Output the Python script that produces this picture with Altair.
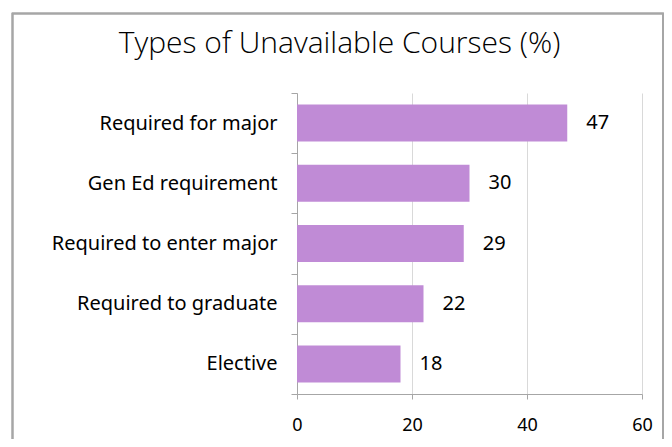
import altair as alt
import pandas as pd

categories = ["Required for major", "Gen Ed requirement", "Required to enter major",
              "Required to graduate", "Elective"]
values = [47, 30, 29, 22, 18]
x_ticks = [0, 20, 40, 60]

df = pd.DataFrame({"category": categories, "value": values})

FONT = "Noto Sans"
BAR = "#C08BD6"
AXIS_GRAY = "#A6A6A6"

y_enc = alt.Y("category:N", sort=categories, title=None,
              scale=alt.Scale(paddingInner=0, paddingOuter=0),
              axis=alt.Axis(tickBand="extent", domainColor=AXIS_GRAY, tickColor=AXIS_GRAY,
                            tickSize=6, labelPadding=14, labelFont=FONT, labelFontSize=20,
                            labelColor="black", grid=False, labelLimit=400))
x_enc = alt.X("value:Q", title=None,
              scale=alt.Scale(domain=[0, 60], nice=False),
              axis=alt.Axis(values=x_ticks, domainColor=AXIS_GRAY, tickColor=AXIS_GRAY,
                            tickSize=5, labelPadding=17, labelFont=FONT, labelFontSize=18,
                            labelColor="black", grid=True, gridColor="#D9D9D9",
                            labelFlush=False))

bars = alt.Chart(df).mark_bar(color=BAR, size=37).encode(x=x_enc, y=y_enc)
labels = alt.Chart(df).mark_text(align="left", baseline="middle", dx=19, font=FONT,
                                 fontSize=20, color="black").encode(
    x="value:Q", y=alt.Y("category:N", sort=categories), text="value:Q")

border = alt.Chart(df).mark_rect(fill=None, stroke="#A6A6A6", strokeWidth=1.5).encode(
    x=alt.value(-284.5), x2=alt.value(366), y=alt.value(-79.5), y2=alt.value(370))

chart = alt.layer(border, bars, labels).properties(
    width=345, height=301,
    autosize=alt.AutoSizeParams(type="none"),
    padding={"left": 289, "right": 22, "top": 85, "bottom": 45},
    title=alt.TitleParams("Types of Unavailable Courses (%)", font="Open Sans", fontSize=30,
                          fontWeight=300, color="black", anchor="middle", frame="group",
                          dx=-130, baseline="alphabetic", offset=-70),
).configure_view(stroke=None)

chart.save("out.html", embed_options={"renderer": "svg", "actions": False})
